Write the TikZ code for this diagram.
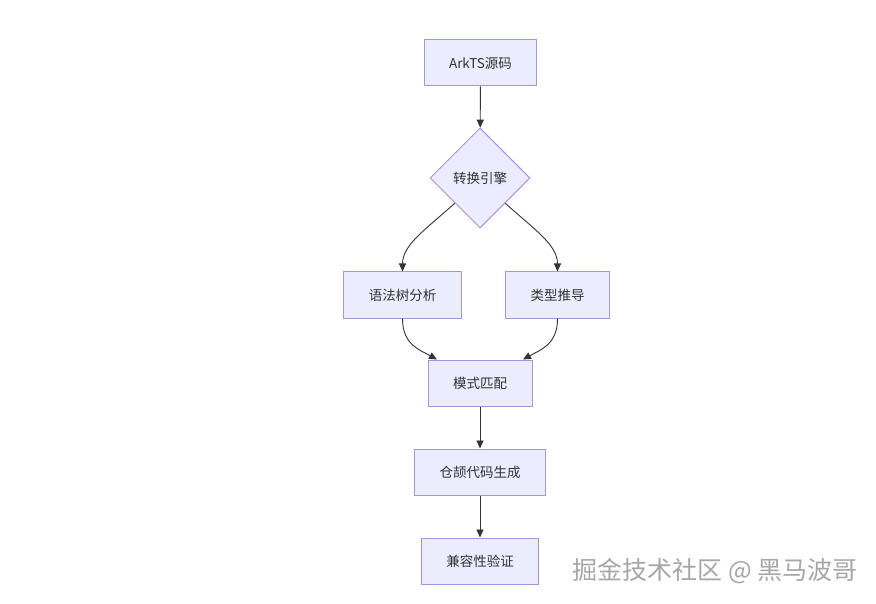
\documentclass[tikz,border=0pt]{standalone}
\usepackage{fontspec}
\setmainfont{Noto Sans CJK SC}
\usetikzlibrary{arrows.meta, positioning, shapes.geometric}
\definecolor{mfill}{HTML}{ECECFF}
\definecolor{mline}{HTML}{A892E2}
\definecolor{mtext}{HTML}{333333}

\begin{document}
\begin{tikzpicture}[x=1pt,y=-1pt,font=\fontsize{13.5}{16}\selectfont,
    box/.style={draw=mline,fill=mfill,line width=1pt,text=mtext,minimum height=46pt,inner xsep=25pt,inner ysep=0pt},
    dec/.style={box,diamond,aspect=1,minimum size=100pt,inner sep=0pt},
    arr/.style={-{Triangle[length=8pt,width=7pt]},line width=0.9pt,mtext},
    wmark/.style={font=\fontsize{25}{28}\selectfont,text=gray!70}]
    \useasboundingbox (0,0) rectangle (876,604);
    % Nodes
    \node[box] (src)  at (480.5,63) {ArkTS源码};
    \node[dec] (eng)  at (480,178)  {转换引擎};
    \node[box] (tree) at (402.5,295){语法树分析};
    \node[box] (type) at (557.5,295){类型推导};
    \node[box] (pat)  at (480,383)  {模式匹配};
    \node[box] (gen)  at (480,472)  {仓颉代码生成};
    \node[box] (chk)  at (480,561)  {兼容性验证};
    % Arrows
    \draw[arr] (src) -- (eng);
    \draw[arr] (eng.south west) .. controls (425,230) and (402.5,245) .. (tree.north);
    \draw[arr] (eng.south east) .. controls (535,230) and (557.5,245) .. (type.north);
    \draw[arr] (tree.south) .. controls (402.5,345) and (420,350) .. ([xshift=-43pt]pat.north);
    \draw[arr] (type.south) .. controls (557.5,345) and (540,350) .. ([xshift=43pt]pat.north);
    \draw[arr] (pat) -- (gen);
    \draw[arr] (gen) -- (chk);
    % Watermark
    \node[wmark] (wm) at (715,571) {掘金技术社区 @ 黑马波哥};
\end{tikzpicture}
\end{document}
